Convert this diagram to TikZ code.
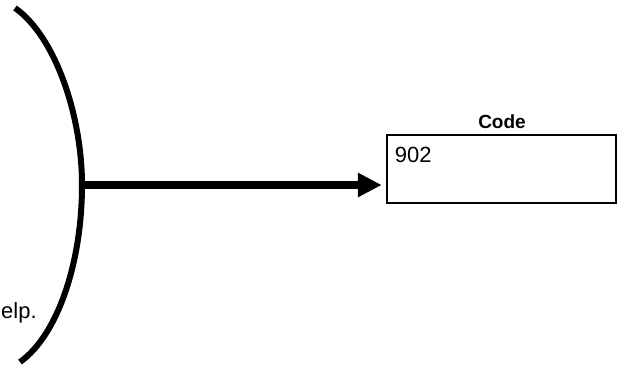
\documentclass[tikz,border=0pt]{standalone}
\usepackage{fontspec}
\setmainfont{Liberation Sans}
\usetikzlibrary{positioning,arrows.meta}
\tikzset{
  box/.style={draw, rectangle, line width=2.5pt, minimum width=229pt, minimum height=68pt, inner sep=0pt},
  txt/.style={font=\fontsize{22}{26}\selectfont, inner sep=0pt},
  bigarrow/.style={line width=8pt, shorten >=4pt, -{Triangle[length=24pt,width=23pt]}},
}
\begin{document}
\begin{tikzpicture}[x=1pt,y=-1pt]
  \useasboundingbox (0,0) rectangle (621,369);
  \node [box] (codebox) at (501.5,169) {};
  \node [txt, font=\fontsize{19}{23}\selectfont\bfseries, anchor=base] (codetitle) at (502,128) {Code};
  \node [txt, below right=13pt and 9pt of codebox.north west] (codevalue) {902};
  \node [txt, anchor=base west] (helptext) at (1,318) {elp.};

  \draw [line width=6pt] (15,8) .. controls (55,36) and (82,115) .. (82,185) coordinate (bend)
    .. controls (82,262) and (58,335) .. (20,362);
  \draw [bigarrow] (bend) -- (bend -| codebox.west);
\end{tikzpicture}
\end{document}
